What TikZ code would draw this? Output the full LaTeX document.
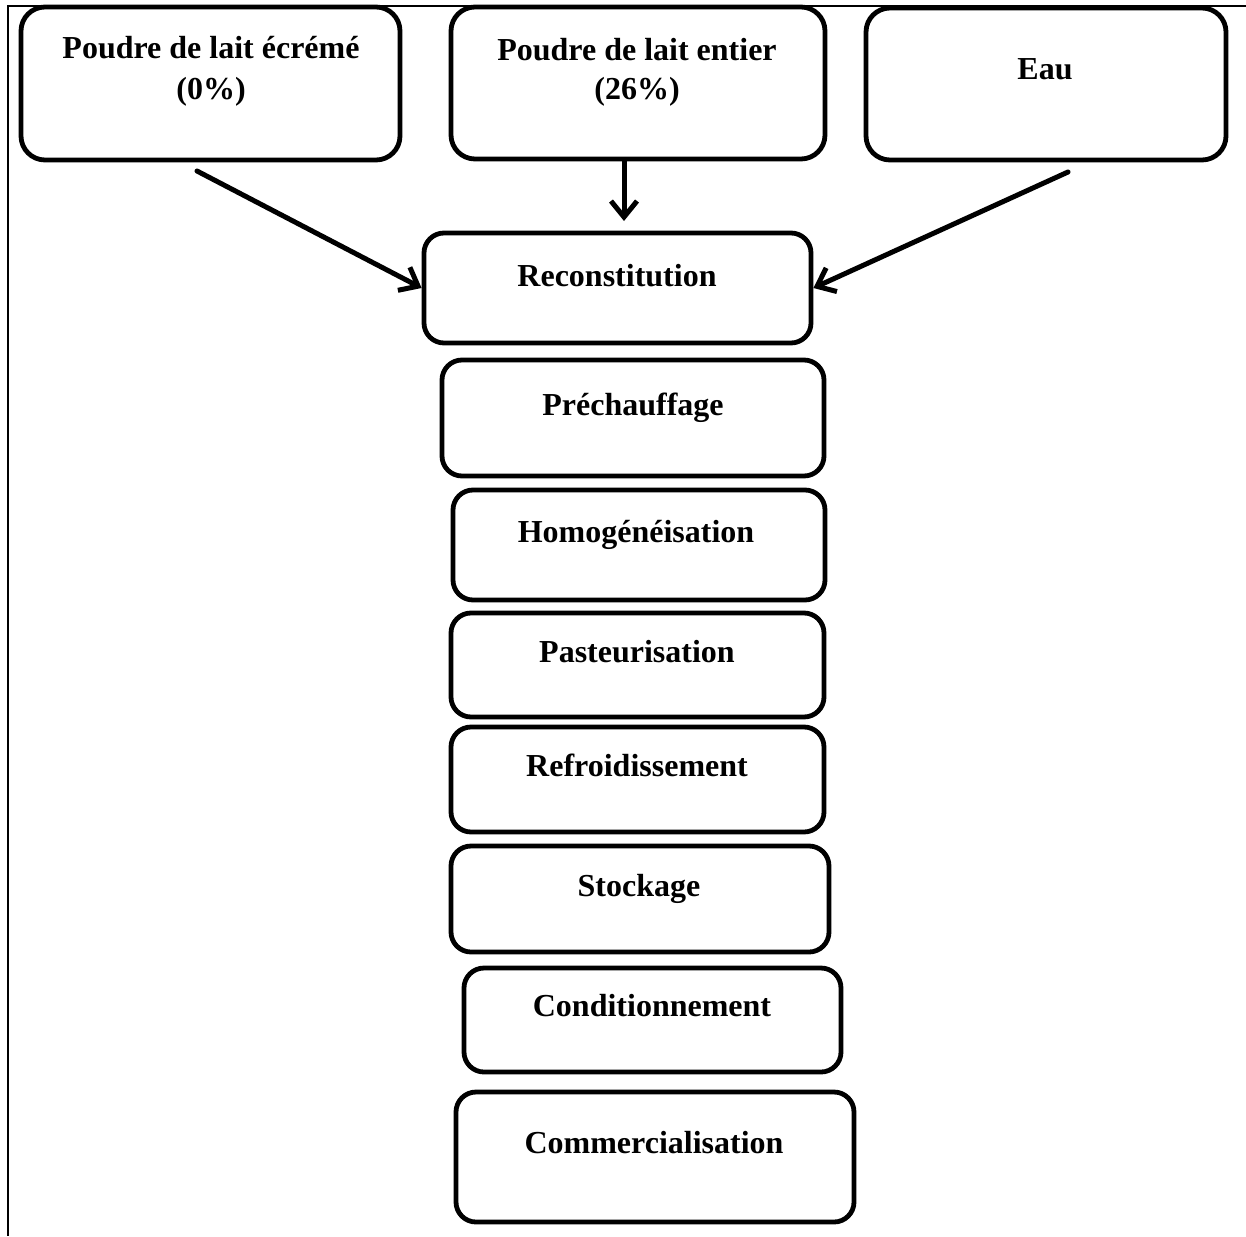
\documentclass[tikz,border=0pt]{standalone}
\usepackage{fontspec}
\setmainfont{Liberation Serif}
\usetikzlibrary{arrows.meta}
\tikzset{
  pbox/.style={draw=black, line width=2.4pt, rounded corners=10pt, inner sep=0pt, fill=white},
  ptxt/.style={anchor=base, inner sep=0pt, font=\fontsize{16}{19}\selectfont\bfseries},
  parrow/.style={line width=2.5pt, line cap=round, -{Straight Barb[length=8pt,width=13pt,line width=2.5pt]}},
  frame/.style={line width=1.2pt}
}
\begin{document}
\begin{tikzpicture}[x=0.5pt,y=-0.5pt]
\useasboundingbox (0,0) rectangle (1246,1236);
% frame
\coordinate (fr1) at (7,6);
\coordinate (fr2) at (1246,6);
\coordinate (fr3) at (8,6);
\coordinate (fr4) at (8,1236);
\draw[frame] (fr1) -- (fr2);
\draw[frame] (fr3) -- (fr4);
% top boxes
\node[pbox, rounded corners=12pt, minimum width=189.5pt, minimum height=76.5pt] (b1) at (210.5,83.5) {};
\node[pbox, rounded corners=12pt, minimum width=187pt, minimum height=76pt] (b2) at (638,83) {};
\node[pbox, rounded corners=12pt, minimum width=180pt, minimum height=76pt] (b3) at (1046,84) {};
\node[ptxt] (b1a) at (211,59) {Poudre de lait écrémé};
\node[ptxt] (b1b) at (211,100) {(0\%)};
\node[ptxt] (b2a) at (637,61) {Poudre de lait entier};
\node[ptxt] (b2b) at (637,100) {(26\%)};
\node[ptxt] (b3a) at (1045,80) {Eau};
% chain
\node[pbox, minimum width=193.5pt, minimum height=55pt] (rec) at (617.5,288) {};
\node[ptxt] (rect) at (617,286) {Reconstitution};
\node[pbox, minimum width=191pt, minimum height=58pt] (pre) at (633,418) {};
\node[ptxt] (pret) at (633,415) {Préchauffage};
\node[pbox, minimum width=186pt, minimum height=55pt] (hom) at (639,545) {};
\node[ptxt] (homt) at (636,542) {Homogénéisation};
\node[pbox, minimum width=186.5pt, minimum height=52pt] (pas) at (637.5,665) {};
\node[ptxt] (past) at (637,662) {Pasteurisation};
\node[pbox, minimum width=186.5pt, minimum height=52.5pt] (ref) at (637.5,779.5) {};
\node[ptxt] (reft) at (637,776) {Refroidissement};
\node[pbox, minimum width=189pt, minimum height=53pt] (sto) at (640,899) {};
\node[ptxt] (stot) at (639,896) {Stockage};
\node[pbox, minimum width=188.5pt, minimum height=52pt] (con) at (652.5,1020) {};
\node[ptxt] (cont) at (652,1016) {Conditionnement};
\node[pbox, minimum width=199pt, minimum height=65pt] (com) at (655,1157) {};
\node[ptxt] (comt) at (654,1153) {Commercialisation};
% arrows
\coordinate (a1s) at (197,171);
\coordinate (a2s) at (624,161);
\coordinate (a2e) at (624,221);
\coordinate (a3s) at (1068,172);
\draw[parrow] (a1s) -- (rec.west);
\draw[parrow] (a2s) -- (a2e);
\draw[parrow] (a3s) -- (rec.east);
\end{tikzpicture}
\end{document}
